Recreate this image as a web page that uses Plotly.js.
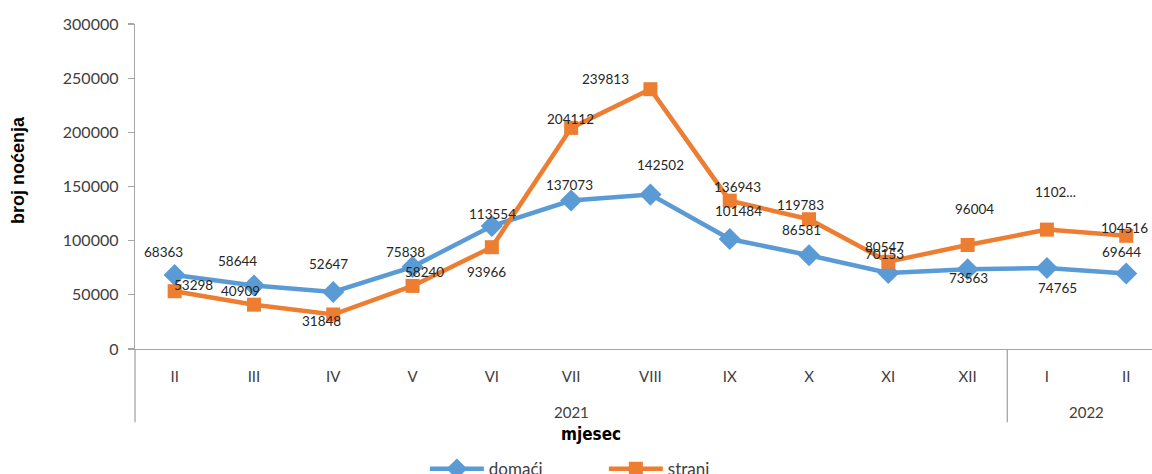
<!DOCTYPE html>
<html>
<head>
<meta charset="utf-8">
<script src="https://cdn.plot.ly/plotly-3.0.1.min.js"></script>
<style>html,body{margin:0;padding:0;background:#fff;}#chart{width:1152px;height:474px;}</style>
</head>
<body>
<div id="chart"></div>
<script>
// ---- data ----
const months = ["II","III","IV","V","VI","VII","VIII","IX","X","XI","XII","I","II"];
const years = ["2021","2022"];
const domaci = [68363,58644,52647,75838,113554,137073,142502,101484,86581,70153,73563,74765,69644];
const strani = [53298,40909,31848,58240,93966,204112,239813,136943,119783,80547,96004,110200,104516];
const straniLabels = ["53298","40909","31848","58240","93966","204112","239813","136943","119783","80547","96004","1102...","104516"];

// ---- label placement (pixel offsets, style only) ----
const domOff = [[-11,23],[-16,24],[-5,28],[-7,15],[1,12],[-2,16],[10,30],[9,28],[-8,25],[-4,19],[1,-9],[11,-20],[-5,22]];
const strOff = [[19,6],[-13,14],[-12,-6],[12,14],[-5,-25],[-1,9],[-45,10],[8,14],[-9,14],[-4,15],[7,36],[9,38],[-2,8]];

const xs = months.map((m,i)=>i);
const blue = "#5B9BD5", orange = "#ED7D31";
const font = "Lato, 'Open Sans', sans-serif";

const traces = [
  {x: xs, y: domaci, name: "domaći", type: "scatter", mode: "lines+markers",
   line: {color: blue, width: 4.5}, marker: {symbol: "diamond", size: 17, color: blue}},
  {x: xs, y: strani, name: "strani", type: "scatter", mode: "lines+markers",
   line: {color: orange, width: 4.5}, marker: {symbol: "square", size: 14, color: orange}}
];

const ann = [];
domaci.forEach((v,i)=>ann.push({x: xs[i], y: v, xref: "x", yref: "y", text: String(v), showarrow: false,
  xshift: domOff[i][0], yshift: domOff[i][1], font: {family: font, size: 13.5, color: "#262626"}}));
strani.forEach((v,i)=>ann.push({x: xs[i], y: v, xref: "x", yref: "y", text: straniLabels[i], showarrow: false,
  xshift: strOff[i][0], yshift: strOff[i][1], font: {family: font, size: 13.5, color: "#262626"}}));
// year group labels
ann.push({x: 5, y: -0.194, xref: "x", yref: "paper", yanchor: "middle", text: years[0], showarrow: false, font: {family: font, size: 15, color: "#404040"}});
ann.push({x: 11.5, y: -0.194, xref: "x", yref: "paper", yanchor: "middle", text: years[1], showarrow: false, font: {family: font, size: 15, color: "#404040"}});
// axis titles
ann.push({x: 5.25, y: -0.26, xref: "x", yref: "paper", yanchor: "middle", text: "<b>mjesec</b>", showarrow: false, font: {family: "'Liberation Sans Narrow', 'DejaVu Sans Condensed', sans-serif", size: 17, color: "#000"}});
ann.push({x: -0.115, y: 0.551, xref: "paper", yref: "paper", xanchor: "center", yanchor: "middle", text: "<b>broj noćenja</b>", textangle: -90, showarrow: false, font: {family: "'Liberation Sans', Arial, sans-serif", size: 18, color: "#000"}});

const shapes = [
  {type: "line", xref: "paper", yref: "paper", x0: 0, x1: 0, y0: 0, y1: -0.225, line: {color: "#A6A6A6", width: 1.3}},
  {type: "line", xref: "x", yref: "paper", x0: 10.5, x1: 10.5, y0: 0, y1: -0.225, line: {color: "#A6A6A6", width: 1.3}}
];

const layout = {
  width: 1152, height: 474,
  margin: {l: 135, r: 0, t: 24, b: 125, autoexpand: false},
  paper_bgcolor: "#fff", plot_bgcolor: "#fff",
  showlegend: true,
  legend: {orientation: "h", x: 0.285, xanchor: "left", y: -0.37, yanchor: "middle",
    font: {family: font, size: 17, color: "#404040"}, itemwidth: 54, entrywidth: 110, entrywidthmode: "pixels",
    traceorder: "normal", tracegroupgap: 0},
  xaxis: {range: [-0.5, 12.325], tickmode: "array", tickvals: xs, ticktext: months,
    showgrid: false, zeroline: false, showline: true, linecolor: "#A6A6A6", linewidth: 1.3,
    ticks: "", ticklabelstandoff: 14, tickfont: {family: font, size: 15, color: "#404040"}},
  yaxis: {range: [0, 300000], tickmode: "array", tickvals: [0,50000,100000,150000,200000,250000,300000],
    ticktext: ["0","50000","100000","150000","200000","250000","300000"],
    showgrid: false, zeroline: false, showline: true, linecolor: "#A6A6A6", linewidth: 1.3,
    ticks: "outside", ticklen: 6, tickcolor: "#A6A6A6", tickwidth: 1.3, ticklabelstandoff: 6,
    tickfont: {family: font, size: 16, color: "#404040"}},
  annotations: ann,
  shapes: shapes
};

Plotly.newPlot("chart", traces, layout, {displayModeBar: false, staticPlot: true});
</script>
</body>
</html>
